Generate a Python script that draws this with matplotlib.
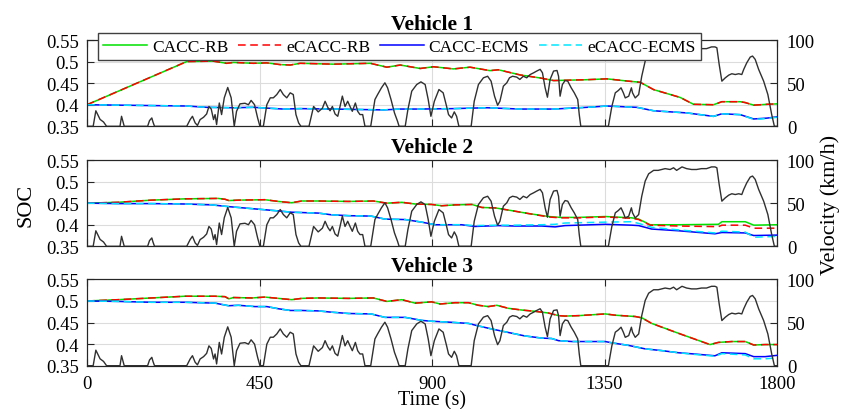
import matplotlib.pyplot as plt

plt.rcParams["font.family"] = ["Liberation Serif", "DejaVu Serif"]

# shared drive cycle (velocity, km/h)
speed_t = [0, 16, 23, 34, 43, 51, 86, 90, 97, 158, 163, 169, 172, 176, 260, 269, 275, 282, 288, 295,
           304, 312, 318, 324, 330, 334, 338, 345, 351, 358, 367, 376, 384, 390, 399, 412, 421, 428,
           437, 445, 451, 460, 469, 478, 486, 495, 504, 512, 521, 530, 538, 545, 552, 558, 579, 591,
           603, 610, 614, 621, 628, 634, 640, 647, 654, 660, 666, 673, 680, 686, 692, 700, 706, 712,
           719, 725, 740, 751, 758, 768, 777, 784, 793, 802, 810, 814, 830, 837, 847, 860, 871, 882,
           890, 897, 906, 918, 929, 938, 943, 951, 958, 964, 970, 1002, 1010, 1021, 1034, 1045, 1054,
           1063, 1071, 1077, 1086, 1095, 1102, 1110, 1121, 1129, 1138, 1147, 1156, 1165, 1173, 1182,
           1188, 1195, 1201, 1208, 1217, 1226, 1230, 1234, 1240, 1247, 1254, 1263, 1271, 1280, 1284,
           1288, 1360, 1369, 1378, 1386, 1393, 1399, 1404, 1413, 1420, 1423, 1430, 1439, 1447, 1456,
           1465, 1478, 1490, 1508, 1521, 1530, 1538, 1552, 1564, 1577, 1590, 1603, 1616, 1629, 1638,
           1643, 1649, 1656, 1665, 1674, 1682, 1691, 1700, 1708, 1713, 1721, 1730, 1736, 1743, 1752,
           1765, 1776, 1786, 1793, 1800]
speed_v = [0, 0, 18, 8, 5, 0, 0, 11.6, 0, 0, 6.6, 9.7, 5, 0, 0, 7.8, 11.6, 4, 1, 7.8,
           10.5, 14.3, 23, 20, 7.8, 13.6, 2, 27, 13.6, 33, 45, 33, 0, 17.4, 26, 26.7, 25, 30,
           25, 9.7, 0, 0, 25, 33, 33, 36.8, 42.6, 36.8, 33, 38.8, 36.8, 13.6, 3.9, 0, 0, 23,
           16.7, 19.4, 21, 29, 22, 18, 23, 14.3, 11.6, 23, 35, 23, 29, 23, 17.4, 27, 17.4, 13.6,
           13.6, 0, 0, 31, 36.8, 44.6, 50.4, 44.6, 31, 15.5, 5.8, 0, 0, 19.4, 40.7, 48.4, 51.5, 48.4,
           31, 11.6, 29, 42.6, 38.8, 23, 13.6, 9.7, 16.7, 11.6, 0, 0, 29, 48.4, 56.2, 58, 52.3,
           34.9, 24.4, 29, 46.5, 50.4, 56.2, 58, 57, 54.3, 58, 56.2, 60, 62, 64, 66,
           62, 44.6, 33.7, 54.3, 64, 64.7, 58, 34.9, 48.4, 53, 52.3, 44.6, 38.8, 31, 13.6,
           0, 0, 23, 38.8, 41.5, 44.6, 38.8, 32.9, 34.9, 44.6, 38.8, 32.9, 36.8, 58, 75.6,
           84, 88, 88, 90, 89, 91, 88, 92, 90, 89, 89, 90, 90, 92, 92,
           91, 71.7, 52.3, 56.2, 59.3, 60.9, 60, 60.9, 60, 65.9, 73.6, 80.2, 81.4, 77.5, 65.9,
           52.3, 36.8, 13.6, 0, 0]

# Vehicle 1 SOC
v1_rb_t = [0, 260, 329, 364, 382, 434, 469, 504, 530, 556, 643, 739, 782, 817, 869, 904, 956, 999,
           1051, 1073, 1130, 1182, 1217, 1304, 1356, 1408, 1443, 1478, 1547, 1582, 1634, 1656, 1704,
           1717, 1739, 1774, 1800]
v1_rb = [0.400, 0.500, 0.501, 0.496, 0.498, 0.496, 0.497, 0.493, 0.492, 0.496, 0.494, 0.496, 0.487,
         0.492, 0.484, 0.488, 0.483, 0.487, 0.479, 0.481, 0.469, 0.462, 0.456, 0.458, 0.460, 0.455,
         0.452, 0.435, 0.417, 0.401, 0.400, 0.407, 0.407, 0.405, 0.399, 0.401, 0.402]
v1_ecms_t = [0, 260, 312, 382, 434, 512, 556, 643, 773, 817, 869, 956, 1043, 1130, 1217, 1304, 1356,
             1434, 1478, 1565, 1634, 1656, 1704, 1739, 1774, 1800]
v1_ecms = [0.400, 0.397, 0.394, 0.393, 0.394, 0.390, 0.391, 0.390, 0.388, 0.390, 0.390, 0.391, 0.393,
           0.390, 0.390, 0.394, 0.397, 0.394, 0.386, 0.381, 0.373, 0.379, 0.377, 0.367, 0.369, 0.372]
v1_e_ecms = [0.400, 0.397, 0.394, 0.393, 0.394, 0.390, 0.391, 0.390, 0.388, 0.390, 0.390, 0.391, 0.393,
             0.390, 0.390, 0.394, 0.397, 0.394, 0.386, 0.381, 0.373, 0.379, 0.377, 0.366, 0.368, 0.371]

# Vehicle 2 SOC
v2_rb_t = [0, 81, 168, 255, 342, 360, 370, 395, 464, 499, 534, 560, 603, 682, 747, 782, 821, 856, 899,
           925, 960, 1004, 1030, 1065, 1099, 1151, 1204, 1234, 1282, 1352, 1421, 1439, 1469, 1543,
           1647, 1656, 1717, 1739, 1800]
v2_rb = [0.450, 0.452, 0.457, 0.460, 0.461, 0.459, 0.456, 0.457, 0.458, 0.454, 0.451, 0.455, 0.455,
         0.454, 0.455, 0.450, 0.452, 0.448, 0.447, 0.444, 0.446, 0.447, 0.440, 0.439, 0.434, 0.426,
         0.419, 0.417, 0.417, 0.419, 0.416, 0.413, 0.400, 0.400, 0.401, 0.407, 0.407, 0.399, 0.400]
v2_e_rb = [0.450, 0.452, 0.457, 0.460, 0.461, 0.459, 0.456, 0.457, 0.458, 0.454, 0.451, 0.455, 0.455,
           0.454, 0.455, 0.450, 0.452, 0.448, 0.447, 0.444, 0.446, 0.447, 0.440, 0.439, 0.434, 0.426,
           0.418, 0.416, 0.416, 0.418, 0.415, 0.412, 0.399, 0.397, 0.3955, 0.399, 0.399, 0.392, 0.392]
v2_ecms_t = [0, 81, 168, 255, 325, 369, 395, 447, 499, 534, 603, 638, 682, 741, 777, 830, 873, 908,
             977, 1012, 1073, 1116, 1186, 1221, 1247, 1352, 1421, 1439, 1473, 1543, 1638, 1656, 1717,
             1739, 1800]
v2_ecms = [0.450, 0.449, 0.449, 0.448, 0.446, 0.442, 0.440, 0.436, 0.432, 0.429, 0.427, 0.423, 0.421,
           0.420, 0.413, 0.412, 0.406, 0.400, 0.400, 0.396, 0.398, 0.397, 0.397, 0.395, 0.398, 0.401,
           0.399, 0.398, 0.390, 0.386, 0.379, 0.382, 0.381, 0.375, 0.376]
v2_e_ecms = [0.450, 0.449, 0.449, 0.448, 0.446, 0.442, 0.440, 0.436, 0.432, 0.429, 0.427, 0.423, 0.421,
             0.420, 0.413, 0.412, 0.406, 0.400, 0.400, 0.398, 0.399, 0.399, 0.400, 0.401, 0.404, 0.406,
             0.407, 0.403, 0.394, 0.388, 0.381, 0.385, 0.383, 0.371, 0.373]

# Vehicle 3 SOC
v3_rb_t = [0, 81, 168, 255, 334, 360, 370, 382, 430, 464, 499, 534, 560, 603, 682, 747, 782, 821, 856,
           899, 921, 960, 995, 1021, 1047, 1069, 1099, 1134, 1169, 1204, 1230, 1247, 1282, 1352, 1378,
           1430, 1447, 1473, 1543, 1625, 1647, 1682, 1717, 1739, 1769, 1800]
v3_rb = [0.500, 0.503, 0.507, 0.511, 0.511, 0.510, 0.505, 0.508, 0.507, 0.509, 0.506, 0.503, 0.506,
         0.507, 0.506, 0.507, 0.499, 0.503, 0.495, 0.498, 0.493, 0.496, 0.496, 0.490, 0.487, 0.490,
         0.483, 0.479, 0.476, 0.472, 0.466, 0.465, 0.466, 0.470, 0.467, 0.464, 0.461, 0.448, 0.425,
         0.399, 0.404, 0.406, 0.406, 0.398, 0.399, 0.399]
v3_ecms_t = [0, 81, 168, 255, 334, 369, 395, 438, 469, 499, 530, 560, 603, 638, 682, 741, 777, 830, 873,
             899, 943, 995, 1017, 1056, 1099, 1142, 1186, 1212, 1230, 1265, 1352, 1369, 1413, 1456,
             1499, 1543, 1586, 1638, 1656, 1717, 1739, 1769, 1800]
v3_ecms = [0.500, 0.499, 0.497, 0.497, 0.495, 0.489, 0.490, 0.487, 0.487, 0.482, 0.478, 0.478, 0.477,
           0.474, 0.471, 0.470, 0.462, 0.462, 0.455, 0.453, 0.451, 0.448, 0.443, 0.435, 0.427, 0.419,
           0.414, 0.413, 0.408, 0.406, 0.406, 0.403, 0.397, 0.389, 0.385, 0.380, 0.377, 0.373, 0.380,
           0.378, 0.371, 0.371, 0.374]
v3_e_ecms = [0.500, 0.499, 0.497, 0.497, 0.495, 0.489, 0.490, 0.487, 0.487, 0.482, 0.478, 0.478, 0.477,
             0.474, 0.471, 0.470, 0.462, 0.462, 0.455, 0.453, 0.451, 0.448, 0.443, 0.435, 0.427, 0.419,
             0.414, 0.413, 0.408, 0.406, 0.406, 0.403, 0.397, 0.389, 0.385, 0.380, 0.376, 0.372, 0.378,
             0.375, 0.366, 0.366, 0.368]

titles = ["Vehicle 1", "Vehicle 2", "Vehicle 3"]
legend_labels = ["CACC-RB", "eCACC-RB", "CACC-ECMS", "eCACC-ECMS"]
soc_ticks = [0.35, 0.4, 0.45, 0.5, 0.55]
soc_ticklabels = ["0.35", "0.4", "0.45", "0.5", "0.55"]
time_ticks = [0, 450, 900, 1350, 1800]
vel_ticks = [0, 50, 100]

vehicles = [
    (v1_rb_t, v1_rb, v1_rb, v1_ecms_t, v1_ecms, v1_e_ecms),
    (v2_rb_t, v2_rb, v2_e_rb, v2_ecms_t, v2_ecms, v2_e_ecms),
    (v3_rb_t, v3_rb, v3_rb, v3_ecms_t, v3_ecms, v3_e_ecms),
]

fig = plt.figure(figsize=(8.45, 4.10), dpi=100)
left, width, height = 0.103, 0.8166, 0.2105
bottoms = [0.6895, 0.3968, 0.1056]
tick_fs = 13.5
spine_c = "#262626"

for i, (rb_t, rb, e_rb, ec_t, ec, e_ec) in enumerate(vehicles):
    ax = fig.add_axes([left, bottoms[i], width, height])
    ax.plot(rb_t, rb, color="#00e000", lw=1.1, label=legend_labels[0])
    ax.plot(rb_t, e_rb, color="#ff0000", lw=1.1, ls=(0, (5, 3)), label=legend_labels[1])
    ax.plot(ec_t, ec, color="#0000ff", lw=1.1, label=legend_labels[2])
    ax.plot(ec_t, e_ec, color="#00e5ff", lw=1.1, ls=(0, (5, 3)), label=legend_labels[3])
    ax.set_xlim(0, 1800)
    ax.set_ylim(0.35, 0.55)
    ax.set_yticks(soc_ticks)
    ax.set_yticklabels(soc_ticklabels)
    ax.set_xticks(time_ticks)
    ax.grid(True, color="#dcdcdc", lw=0.8)
    ax.set_axisbelow(True)
    ax.tick_params(direction="in", length=5, width=0.8, labelsize=tick_fs, colors=spine_c,
                   top=True, labelcolor="black")
    ax.tick_params(axis="x", pad=6.5)
    ax.tick_params(axis="y", pad=6)
    if i < 2:
        ax.tick_params(labelbottom=False)
    for s in ax.spines.values():
        s.set_color(spine_c)
        s.set_linewidth(0.8)
    ax.set_title(titles[i], fontsize=15.5, fontweight="bold", pad=8 if i == 0 else 6)

    ax2 = ax.twinx()
    ax2.plot(speed_t, speed_v, color="#303030", lw=1.0)
    ax2.set_ylim(0, 100)
    ax2.set_yticks(vel_ticks)
    ax2.tick_params(direction="in", length=5, width=0.8, labelsize=tick_fs, colors=spine_c,
                    labelcolor="black", pad=7)
    for s in ax2.spines.values():
        s.set_color(spine_c)
        s.set_linewidth(0.8)

    if i == 0:
        handles, labels = ax.get_legend_handles_labels()
        leg = ax2.legend(handles, labels, ncol=4, loc="upper left",
                         bbox_to_anchor=(0.016, 1.078), borderaxespad=0,
                         fontsize=12.5, handlelength=2.5, handletextpad=0.3,
                         columnspacing=0.55, borderpad=0.3, fancybox=False,
                         framealpha=1, edgecolor="#404040")
        leg.get_frame().set_linewidth(1.0)

fig.text(0.031, 0.5, "SOC", rotation=90, fontsize=16, ha="center", va="center")
fig.text(0.982, 0.5, "Velocity (km/h)", rotation=90, fontsize=16, ha="center", va="center")
fig.text(0.511, 0.022, "Time (s)", fontsize=14.5, ha="center", va="center")

plt.savefig("out.png", dpi=100)
